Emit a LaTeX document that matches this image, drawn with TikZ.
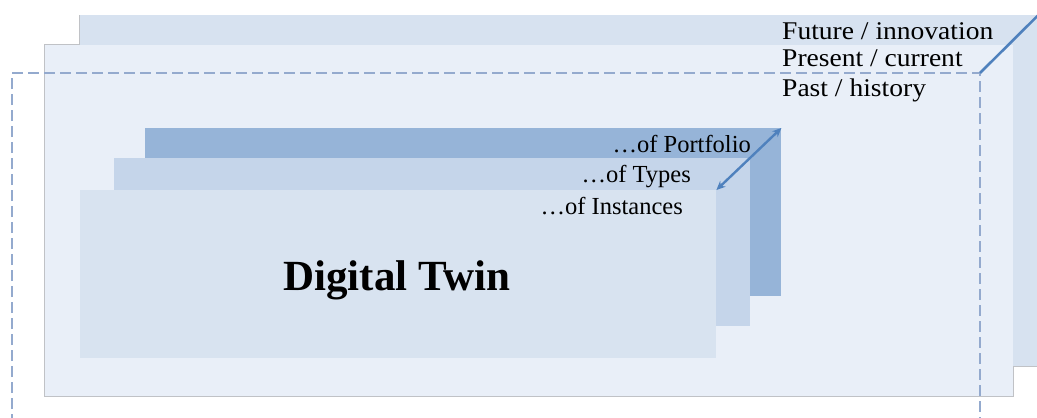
\documentclass[tikz,border=0pt]{standalone}
\usepackage{fontspec}
\setmainfont{Liberation Serif}
\newfontfamily\widefont[FakeStretch=1.08]{Liberation Serif}
\usetikzlibrary{arrows.meta}
\definecolor{futurefill}{RGB}{215,226,240}
\definecolor{presentfill}{RGB}{233,239,248}
\definecolor{portfoliofill}{RGB}{150,180,216}
\definecolor{typesfill}{RGB}{197,213,234}
\definecolor{instancefill}{RGB}{216,227,240}
\definecolor{pastline}{RGB}{148,170,206}
\definecolor{depthblue}{RGB}{79,129,189}
\definecolor{edgegray}{RGB}{192,194,198}
\tikzstyle{layer}=[
        rectangle,
        inner sep = 0pt,
        anchor = north west
    ]
\tikzstyle{inner layer}=[
    layer,
    minimum width = 636pt,
    minimum height = 168pt
]
\tikzstyle{time text}=[
    inner sep = 0pt,
    anchor = base west,
    font = \widefont\fontsize{25.5}{30}\selectfont
]
\tikzstyle{scope text}=[
    inner sep = 0pt,
    anchor = base east,
    font = \fontsize{24.5}{29}\selectfont
]

\begin{document}
\begin{tikzpicture}[x=1pt, y=-1pt, edge/.style = {draw=edgegray, line width=1.2pt}]
        \useasboundingbox (0,0) rectangle (1037,418);
        \clip (0,0) rectangle (1037,418);

        % time layers
        \draw[edge] (45,45) rectangle (1013,396);
        \draw[edge] (80,15) -- (80,366) -- (1045,366);
        \node[layer, fill=futurefill, minimum width=958pt, minimum height=351pt] (future) at (80,15) {};
        \node[layer, fill=presentfill, minimum width=968pt, minimum height=351pt] (present) at (45,45) {};
        \coordinate (past) at (980,73);
        \draw[pastline, line width=2.2pt, dash pattern=on 11pt off 5pt] (12,425) -- (12,73) -- (past) -- (980,425);
        \draw[depthblue, line width=2.6pt] (past) -- (future.north east);

        \node[time text] (fut) at (782,39) {Future / innovation};
        \node[time text] (pres) at (782,66) {Present / current};
        \node[time text] (hist) at (782,96) {Past / history};

        % scope layers
        \node[inner layer, fill=portfoliofill] (portfolio) at (145,128) {};
        \node[inner layer, fill=typesfill] (types) at (114,158) {};
        \node[inner layer, fill=instancefill] (instances) at (80,190) {};
        \draw[depthblue, line width=2.4pt, {Stealth[length=9pt,width=8pt]}-{Stealth[length=9pt,width=8pt]}] (instances.north east) -- (portfolio.north east);

        \node[scope text] (port) at (751,152) {…of Portfolio};
        \node[scope text] (typ) at (691,182) {…of Types};
        \node[scope text] (inst) at (683,214) {…of Instances};

        \node[inner sep=0pt, anchor=base, font=\fontsize{43}{48}\selectfont\bfseries] (dt) at (397,290) {Digital Twin};

    \end{tikzpicture}
\end{document}
